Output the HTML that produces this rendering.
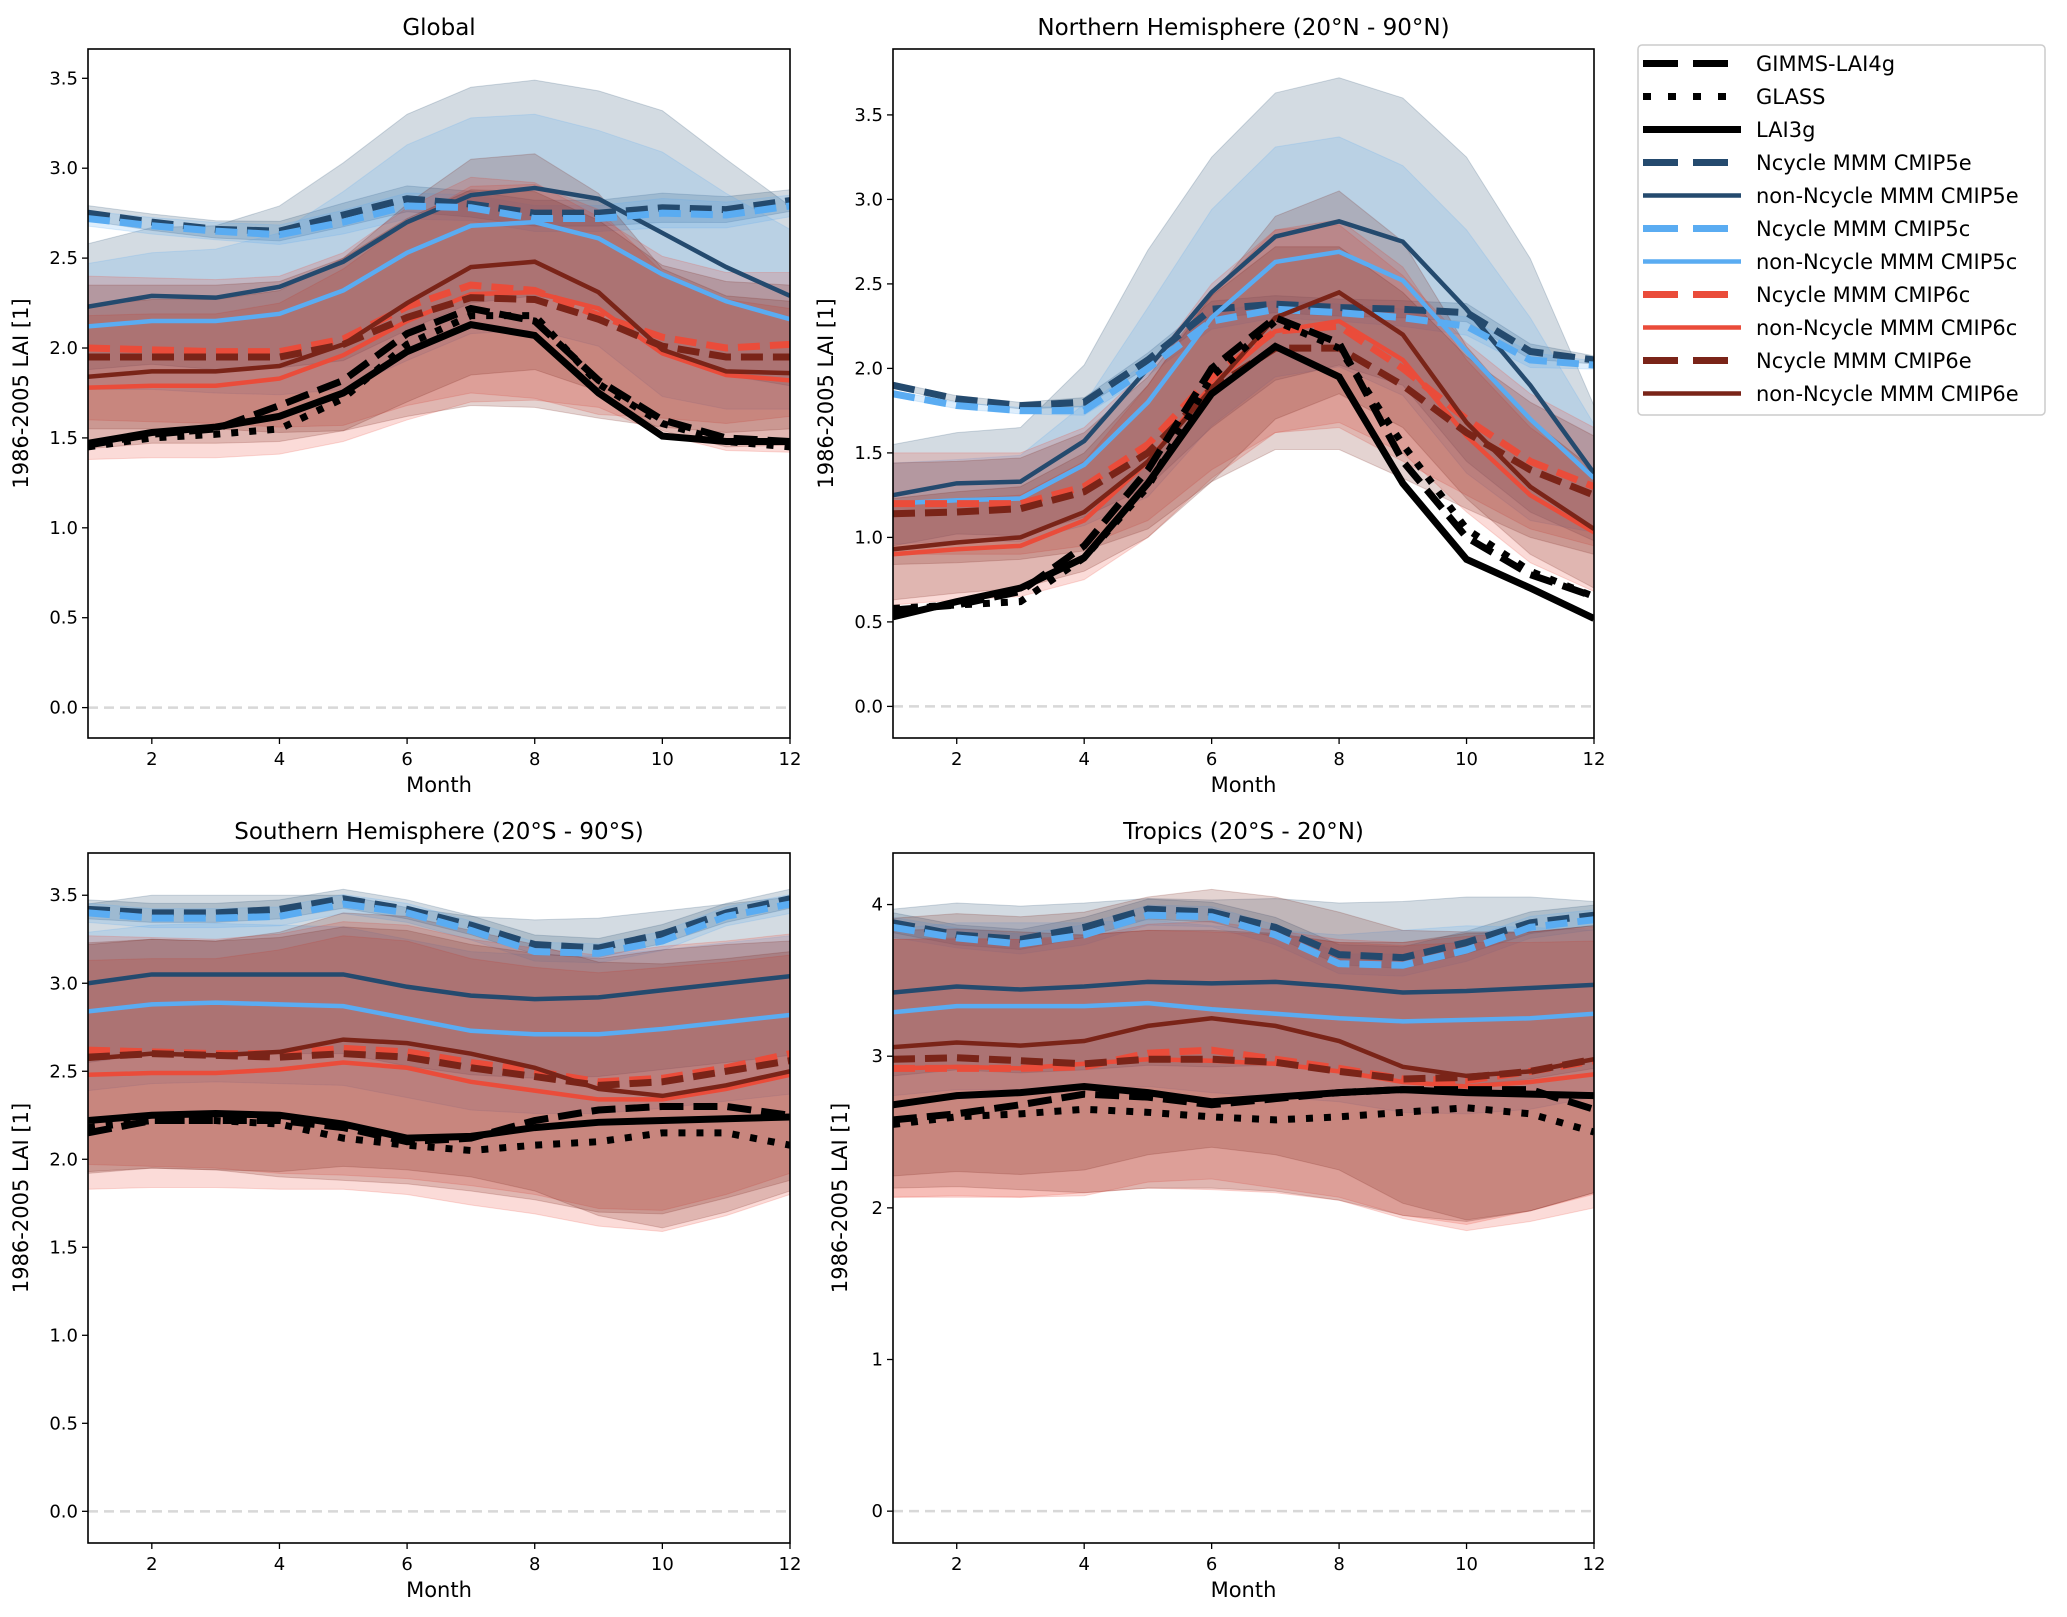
<!DOCTYPE html>
<html><head><meta charset="utf-8"><style>
body{margin:0;background:#fff;}
svg{display:block;font-family:"DejaVu Sans","Liberation Sans",sans-serif;}
</style></head><body>
<svg id="fig" width="2067" height="1617" viewBox="0 0 2067 1617" xmlns="http://www.w3.org/2000/svg"></svg>
<script>
const months = [1,2,3,4,5,6,7,8,9,10,11,12];
const seriesNames = ["GIMMS-LAI4g","GLASS","LAI3g","Ncycle MMM CMIP5e","non-Ncycle MMM CMIP5e","Ncycle MMM CMIP5c","non-Ncycle MMM CMIP5c","Ncycle MMM CMIP6c","non-Ncycle MMM CMIP6c","Ncycle MMM CMIP6e","non-Ncycle MMM CMIP6e"];
// Global
const gGimms=[1.46,1.52,1.55,1.68,1.82,2.08,2.22,2.15,1.82,1.60,1.50,1.48];
const gGlass=[1.45,1.50,1.52,1.55,1.72,2.02,2.18,2.18,1.80,1.58,1.48,1.45];
const gLai3g=[1.47,1.53,1.56,1.62,1.75,1.98,2.13,2.07,1.75,1.51,1.48,1.48];
const gN5e=[2.75,2.70,2.66,2.65,2.74,2.83,2.80,2.75,2.75,2.78,2.77,2.82];
const gnN5e=[2.23,2.29,2.28,2.34,2.48,2.70,2.85,2.89,2.83,2.64,2.45,2.29];
const gN5c=[2.72,2.68,2.65,2.63,2.70,2.79,2.78,2.72,2.72,2.75,2.74,2.79];
const gnN5c=[2.12,2.15,2.15,2.19,2.32,2.53,2.68,2.70,2.61,2.41,2.26,2.16];
const gN6c=[2.00,1.99,1.98,1.98,2.05,2.23,2.35,2.32,2.18,2.06,2.00,2.02];
const gnN6c=[1.78,1.79,1.79,1.83,1.96,2.15,2.30,2.31,2.22,1.97,1.85,1.82];
const gN6e=[1.95,1.95,1.95,1.95,2.02,2.17,2.28,2.27,2.16,2.01,1.95,1.95];
const gnN6e=[1.84,1.87,1.87,1.90,2.02,2.25,2.45,2.48,2.31,1.99,1.87,1.86];
const gSpread5=[0.35,0.38,0.40,0.45,0.55,0.60,0.60,0.60,0.60,0.68,0.60,0.50];
const gSpread6=[0.40,0.40,0.40,0.42,0.48,0.55,0.60,0.60,0.55,0.45,0.42,0.40];
// Northern Hemisphere
const nGimms=[0.57,0.60,0.68,0.95,1.40,2.00,2.30,2.15,1.45,1.00,0.78,0.65];
const nGlass=[0.58,0.60,0.62,0.88,1.30,1.95,2.28,2.12,1.55,1.05,0.80,0.65];
const nLai3g=[0.53,0.62,0.70,0.88,1.32,1.85,2.13,1.95,1.32,0.87,0.70,0.52];
const nN5e=[1.90,1.82,1.78,1.80,2.05,2.35,2.38,2.36,2.35,2.33,2.10,2.05];
const nnN5e=[1.25,1.32,1.33,1.57,2.00,2.45,2.78,2.87,2.75,2.35,1.90,1.38];
const nN5c=[1.85,1.78,1.75,1.75,2.00,2.28,2.35,2.33,2.30,2.25,2.05,2.02];
const nnN5c=[1.20,1.22,1.23,1.43,1.80,2.30,2.63,2.69,2.52,2.10,1.70,1.35];
const nN6c=[1.20,1.20,1.20,1.30,1.55,1.95,2.22,2.25,2.00,1.70,1.45,1.30];
const nnN6c=[0.90,0.93,0.95,1.10,1.45,1.90,2.22,2.28,2.05,1.60,1.25,1.03];
const nN6e=[1.14,1.15,1.17,1.27,1.50,1.88,2.12,2.12,1.90,1.62,1.40,1.25];
const nnN6e=[0.93,0.97,1.00,1.15,1.45,1.88,2.30,2.45,2.20,1.68,1.30,1.05];
const nSpread5=[0.30,0.30,0.32,0.45,0.70,0.80,0.85,0.85,0.85,0.90,0.75,0.40];
const nSpread6=[0.30,0.30,0.30,0.35,0.45,0.55,0.60,0.60,0.55,0.45,0.40,0.35];
// Southern Hemisphere
const sGimms=[2.15,2.22,2.22,2.22,2.18,2.10,2.12,2.22,2.28,2.30,2.30,2.25];
const sGlass=[2.18,2.22,2.22,2.20,2.12,2.08,2.05,2.08,2.10,2.15,2.15,2.08];
const sLai3g=[2.22,2.25,2.26,2.25,2.20,2.12,2.13,2.18,2.21,2.22,2.23,2.24];
const sN5e=[3.42,3.40,3.40,3.42,3.48,3.42,3.33,3.22,3.20,3.28,3.40,3.48];
const snN5e=[3.00,3.05,3.05,3.05,3.05,2.98,2.93,2.91,2.92,2.96,3.00,3.04];
const sN5c=[3.40,3.37,3.37,3.38,3.45,3.40,3.30,3.18,3.17,3.24,3.38,3.45];
const snN5c=[2.84,2.88,2.89,2.88,2.87,2.80,2.73,2.71,2.71,2.74,2.78,2.82];
const sN6c=[2.62,2.61,2.60,2.60,2.63,2.61,2.55,2.50,2.44,2.46,2.52,2.60];
const snN6c=[2.48,2.49,2.49,2.51,2.55,2.52,2.44,2.39,2.34,2.34,2.40,2.48];
const sN6e=[2.58,2.60,2.59,2.58,2.60,2.58,2.52,2.47,2.42,2.44,2.50,2.56];
const snN6e=[2.57,2.60,2.59,2.61,2.68,2.66,2.60,2.52,2.40,2.36,2.42,2.50];
const sSpread5=[0.45,0.45,0.45,0.45,0.45,0.45,0.45,0.45,0.45,0.45,0.45,0.45];
const sSpread6=[0.65,0.65,0.65,0.68,0.72,0.72,0.70,0.70,0.72,0.75,0.72,0.68];
// Tropics
const tGimms=[2.58,2.62,2.68,2.75,2.73,2.68,2.72,2.76,2.78,2.78,2.78,2.65];
const tGlass=[2.55,2.60,2.62,2.65,2.63,2.60,2.58,2.60,2.63,2.66,2.62,2.50];
const tLai3g=[2.68,2.74,2.76,2.80,2.76,2.70,2.73,2.76,2.78,2.76,2.75,2.74];
const tN5e=[3.88,3.80,3.77,3.85,3.97,3.95,3.85,3.67,3.65,3.75,3.88,3.93];
const tnN5e=[3.42,3.46,3.44,3.46,3.49,3.48,3.49,3.46,3.42,3.43,3.45,3.47];
const tN5c=[3.85,3.78,3.74,3.80,3.93,3.92,3.80,3.61,3.60,3.70,3.85,3.90];
const tnN5c=[3.29,3.33,3.33,3.33,3.35,3.31,3.28,3.25,3.23,3.24,3.25,3.28];
const tN6c=[2.92,2.92,2.92,2.93,3.02,3.04,2.98,2.92,2.85,2.84,2.90,2.97];
const tnN6c=[2.92,2.93,2.92,2.95,2.98,2.97,2.95,2.90,2.83,2.80,2.83,2.88];
const tN6e=[2.98,2.99,2.97,2.95,2.98,2.98,2.96,2.90,2.85,2.86,2.90,2.98];
const tnN6e=[3.06,3.09,3.07,3.10,3.20,3.25,3.20,3.10,2.93,2.87,2.90,2.98];
const tSpread5=[0.55,0.55,0.55,0.55,0.55,0.55,0.55,0.55,0.60,0.62,0.60,0.55];
const tSpread6=[0.85,0.85,0.85,0.85,0.85,0.85,0.85,0.85,0.90,0.95,0.92,0.88];
const xTickLabels=["2","4","6","8","10","12"];
const yTicksA=["0.0","0.5","1.0","1.5","2.0","2.5","3.0","3.5"];
const yTicksB=["0","1","2","3","4"];

const NS="http://www.w3.org/2000/svg";
const svg=document.getElementById('fig');
function mk(tag,attrs,parent){const e=document.createElementNS(NS,tag);for(const k in attrs)e.setAttribute(k,attrs[k]);(parent||svg).appendChild(e);return e;}
const colors=["#000","#000","#000","#244a6e","#244a6e","#5aacf2","#5aacf2","#ea4c3a","#ea4c3a","#7a2418","#7a2418"];
const styles=[
 {w:7,d:"24,10"},{w:7,d:"7,11"},{w:7,d:""},
 {w:7,d:"22,10"},{w:4.5,d:""},{w:7,d:"22,10"},{w:4.5,d:""},
 {w:7,d:"22,10"},{w:4.5,d:""},{w:7,d:"22,10"},{w:4.5,d:""}];

const panels=[
 {name:"global",title:"Global",x0:88,x1:790,y0:49,y1:738,ymin:-0.169,ymax:3.663,ticks:yTicksA,data:[gGimms,gGlass,gLai3g,gN5e,gnN5e,gN5c,gnN5c,gN6c,gnN6c,gN6e,gnN6e],s5:gSpread5,s6:gSpread6},
 {name:"northern-hemisphere",title:"Northern Hemisphere (20°N - 90°N)",x0:893,x1:1594,y0:49,y1:738,ymin:-0.187,ymax:3.89,ticks:yTicksA,data:[nGimms,nGlass,nLai3g,nN5e,nnN5e,nN5c,nnN5c,nN6c,nnN6c,nN6e,nnN6e],s5:nSpread5,s6:nSpread6},
 {name:"southern-hemisphere",title:"Southern Hemisphere (20°S - 90°S)",x0:88,x1:790,y0:853,y1:1543,ymin:-0.18,ymax:3.74,ticks:yTicksA,data:[sGimms,sGlass,sLai3g,sN5e,snN5e,sN5c,snN5c,sN6c,snN6c,sN6e,snN6e],s5:sSpread5,s6:sSpread6},
 {name:"tropics",title:"Tropics (20°S - 20°N)",x0:893,x1:1594,y0:853,y1:1543,ymin:-0.21,ymax:4.34,ticks:yTicksB,data:[tGimms,tGlass,tLai3g,tN5e,tnN5e,tN5c,tnN5c,tN6c,tnN6c,tN6e,tnN6e],s5:tSpread5,s6:tSpread6}
];

panels.forEach(p=>{
 const g=mk('g',{});
 
 
 const X=m=>p.x0+(m-1)/11*(p.x1-p.x0);
 const Y=v=>p.y1-(v-p.ymin)/(p.ymax-p.ymin)*(p.y1-p.y0);
 const cid='clip-'+p.name;
 const cp=mk('clipPath',{id:cid},g);mk('rect',{x:p.x0,y:p.y0,width:p.x1-p.x0,height:p.y1-p.y0},cp);
 const plot=mk('g',{'clip-path':'url(#'+cid+')'},g);
 const z=mk('line',{x1:p.x0,x2:p.x1,y1:Y(0),y2:Y(0),stroke:'#d8d8d8','stroke-width':2.5,'stroke-dasharray':'10,6'},plot);
 
 
 for(let i=3;i<11;i++){
  const sp=(i<7?p.s5:p.s6);
  let f=(i===3||i===5)?(p.name==='northern-hemisphere'?0.06:0.12):1;
  if(i===6&&p.name==='northern-hemisphere')f=0.8;
  const d=p.data[i];
  let pts=months.map((m,k)=>X(m)+','+Y(d[k]+sp[k]*f));
  pts=pts.concat(months.slice().reverse().map((m,k2)=>{const k=11-k2;return X(m)+','+Y(d[k]-sp[k]*f);}));
  const band=mk('polygon',{points:pts.join(' '),fill:colors[i],'fill-opacity':0.2,stroke:colors[i],'stroke-opacity':0.2},plot);
  
  
 }
 const order=[3,4,5,6,7,8,9,10,0,1,2];
 order.forEach(i=>{
  const d=p.data[i];
  const pl=mk('polyline',{points:months.map((m,k)=>X(m)+','+Y(d[k])).join(' '),fill:'none',stroke:colors[i],'stroke-width':styles[i].w,'stroke-dasharray':styles[i].d},plot);
  
  
 });
 mk('rect',{x:p.x0,y:p.y0,width:p.x1-p.x0,height:p.y1-p.y0,fill:'none',stroke:'#000','stroke-width':1.6},g);
 xTickLabels.forEach(t=>{
  const x=X(+t);
  mk('line',{x1:x,x2:x,y1:p.y1,y2:p.y1+6,stroke:'#000','stroke-width':1.3},g);
  const tx=mk('text',{x:x,y:p.y1+27,'font-size':18,'text-anchor':'middle'},g);tx.textContent=t;
  
  
 });
 p.ticks.forEach(t=>{
  const y=Y(+t);
  mk('line',{x1:p.x0-6,x2:p.x0,y1:y,y2:y,stroke:'#000','stroke-width':1.3},g);
  const tx=mk('text',{x:p.x0-10,y:y+6,'font-size':18,'text-anchor':'end'},g);tx.textContent=t;
  
  
 });
 const xl=mk('text',{x:(p.x0+p.x1)/2,y:p.y1+54,'font-size':21,'text-anchor':'middle'},g);xl.textContent='Month';
 
 
 const yx=p.x0-(p.ticks===yTicksA?60:46), yc=(p.y0+p.y1)/2;
 const yl=mk('text',{x:yx,y:yc,'font-size':21,'text-anchor':'middle',transform:'rotate(-90 '+yx+' '+yc+')'},g);yl.textContent='1986-2005 LAI  [1]';
 
 
 const tt=mk('text',{x:(p.x0+p.x1)/2,y:p.y0-14,'font-size':23,'text-anchor':'middle'},g);tt.textContent=p.title;
 
 
});

const lg=mk('g',{});


mk('rect',{x:1638,y:45,width:407,height:370,rx:4,fill:'#fff',stroke:'#ccc','stroke-width':1.5},lg);
seriesNames.forEach((n,i)=>{
 const y=63.5+i*33;
 const e=mk('g',{},lg);
 
 
 const w=styles[i].w;
 mk('line',{x1:1643,x2:1741,y1:y,y2:y,stroke:colors[i],'stroke-width':w,'stroke-dasharray':i===0||(i>2&&i%2===1)?'35,15':(i===1?'8,17':'')},e);
 const t=mk('text',{x:1756,y:y+7.5,'font-size':21},e);t.textContent=n;
});
</script>
</body></html>
